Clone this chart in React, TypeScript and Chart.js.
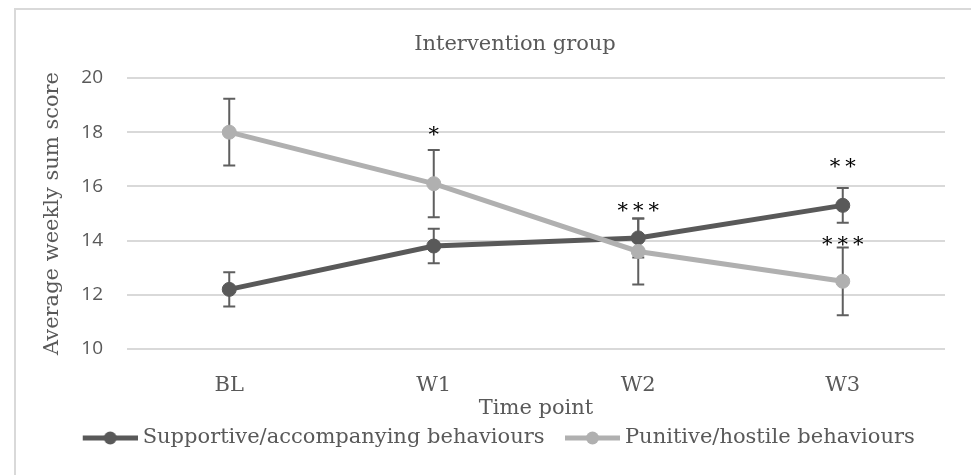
import React, { useEffect, useRef } from 'react';
import { Chart, registerables } from 'chart.js';

Chart.register(...registerables);

// ---- data ----
const categories = ['BL', 'W1', 'W2', 'W3'];
const seriesNames = ['Supportive/accompanying behaviours', 'Punitive/hostile behaviours'];
const supportiveMeans = [12.2, 13.8, 14.1, 15.3];
const supportiveErrors = [0.63, 0.64, 0.72, 0.64];
const punitiveMeans = [18.0, 16.1, 13.6, 12.5];
const punitiveErrors = [1.23, 1.24, 1.22, 1.25];
// significance annotations and the value level they sit at
const supportiveStars = ['', '', '***', '**'];
const supportiveStarLevels = [null, null, 15.26, 16.89];
const punitiveStars = ['', '*', '', '***'];
const punitiveStarLevels = [null, 18.07, null, 14.04];
const yTicks = { min: 10, max: 20, step: 2 };

const SERIF = "'DejaVu Serif', serif";
const SANS = "'Open Sans', sans-serif";
const TEXT = '#595959';
const DARK = '#595959';
const LIGHT = '#b0b0b0';

function makeLegendSymbol(color: string): HTMLCanvasElement {
  const c = document.createElement('canvas');
  c.width = 71;
  c.height = 16;
  const g = c.getContext('2d')!;
  g.strokeStyle = color;
  g.lineWidth = 5;
  g.beginPath();
  g.moveTo(16, 8);
  g.lineTo(71, 8);
  g.stroke();
  g.fillStyle = color;
  g.beginPath();
  g.arc(43.5, 8, 6.5, 0, Math.PI * 2);
  g.fill();
  return c;
}

const errorBarPlugin = {
  id: 'errorBars',
  beforeDatasetsDraw(chart: any) {
    const { ctx } = chart;
    const yScale = chart.scales.y;
    ctx.save();
    ctx.strokeStyle = '#5f5f5f';
    ctx.lineWidth = 2;
    chart.data.datasets.forEach((ds: any, di: number) => {
      const meta = chart.getDatasetMeta(di);
      meta.data.forEach((pt: any, i: number) => {
        const v = ds.data[i];
        const e = ds.errors[i];
        const x = pt.x;
        const yt = yScale.getPixelForValue(v + e);
        const yb = yScale.getPixelForValue(v - e);
        ctx.beginPath();
        ctx.moveTo(x, yt);
        ctx.lineTo(x, yb);
        ctx.moveTo(x - 6, yt);
        ctx.lineTo(x + 6, yt);
        ctx.moveTo(x - 6, yb);
        ctx.lineTo(x + 6, yb);
        ctx.stroke();
      });
    });
    ctx.restore();
  },
};

const starPlugin = {
  id: 'stars',
  afterDatasetsDraw(chart: any) {
    const { ctx } = chart;
    const yScale = chart.scales.y;
    ctx.save();
    ctx.font = `21px ${SERIF}`;
    ctx.fillStyle = '#000000';
    ctx.textAlign = 'center';
    ctx.textBaseline = 'alphabetic';
    chart.data.datasets.forEach((ds: any, di: number) => {
      const meta = chart.getDatasetMeta(di);
      meta.data.forEach((pt: any, i: number) => {
        const s: string = ds.stars[i];
        const lvl = ds.starLevels[i];
        if (!s || lvl == null) return;
        const y = yScale.getPixelForValue(lvl) + 11;
        const n = s.length;
        for (let k = 0; k < n; k++) {
          ctx.fillText(s[k], pt.x + (k - (n - 1) / 2) * 15.5, y);
        }
      });
    });
    ctx.restore();
  },
};

const legendShiftPlugin = {
  id: 'legendShift',
  afterLayout(chart: any) {
    if (chart.legend) chart.legend.left -= 43;
  },
};

export default function App() {
  const ref = useRef<HTMLCanvasElement | null>(null);

  useEffect(() => {
    if (!ref.current) return;
    const symbols = [makeLegendSymbol(DARK), makeLegendSymbol(LIGHT)];
    const chart = new Chart(ref.current, {
      type: 'line',
      data: {
        labels: categories,
        datasets: [
          {
            label: seriesNames[0],
            data: supportiveMeans,
            errors: supportiveErrors,
            stars: supportiveStars,
            starLevels: supportiveStarLevels,
            borderColor: DARK,
            backgroundColor: DARK,
            borderWidth: 5,
            pointRadius: 7,
            pointBackgroundColor: DARK,
            pointBorderColor: DARK,
            pointBorderWidth: 1,
            tension: 0,
            order: 2,
          } as any,
          {
            label: seriesNames[1],
            data: punitiveMeans,
            errors: punitiveErrors,
            stars: punitiveStars,
            starLevels: punitiveStarLevels,
            borderColor: LIGHT,
            backgroundColor: LIGHT,
            borderWidth: 5,
            pointRadius: 7,
            pointBackgroundColor: LIGHT,
            pointBorderColor: LIGHT,
            pointBorderWidth: 1,
            tension: 0,
            order: 1,
          } as any,
        ],
      },
      options: {
        animation: false,
        responsive: false,
        maintainAspectRatio: false,
        layout: { padding: { top: 0, left: 0, right: 0, bottom: 16.5 } },
        plugins: {
          title: {
            display: true,
            text: 'Intervention group',
            color: TEXT,
            font: { family: SERIF, size: 21, weight: 'normal', lineHeight: 1.2 },
            padding: { top: 22.4, bottom: 20.4 },
          },
          legend: {
            position: 'bottom',
            labels: {
              usePointStyle: true,
              pointStyleWidth: 60,
              padding: 10,
              color: TEXT,
              font: { family: SERIF, size: 21, lineHeight: 1.2 },
              generateLabels: () =>
                seriesNames.map((name, i) => ({
                  text: name,
                  fillStyle: i === 0 ? DARK : LIGHT,
                  strokeStyle: i === 0 ? DARK : LIGHT,
                  lineWidth: 0,
                  pointStyle: symbols[i],
                  fontColor: TEXT,
                  hidden: false,
                  datasetIndex: i,
                })),
            },
          },
          tooltip: { enabled: false },
        },
        scales: {
          x: {
            type: 'category',
            offset: true,
            grid: { display: false, drawTicks: false },
            border: { display: false },
            ticks: { color: TEXT, font: { family: SERIF, size: 21, lineHeight: 1.2 }, padding: 24.4 },
            title: {
              display: true,
              text: 'Time point',
              color: TEXT,
              font: { family: SERIF, size: 21, lineHeight: 1.2 },
              padding: { top: 0, bottom: -4.1 },
            },
            afterFit: (s: any) => {
              s.height = 68.5;
            },
          },
          y: {
            type: 'linear',
            min: yTicks.min,
            max: yTicks.max,
            ticks: { stepSize: yTicks.step, color: TEXT, font: { family: SANS, size: 19 }, padding: 24 },
            grid: { color: '#d9d9d9', lineWidth: 2, drawTicks: false },
            border: { display: false },
            title: {
              display: true,
              text: 'Average weekly sum score',
              color: TEXT,
              font: { family: SERIF, size: 21, lineHeight: 1.2 },
              padding: { top: 24.4, bottom: 0 },
            },
            afterFit: (s: any) => {
              s.width = 111;
            },
          },
          y2: {
            type: 'linear',
            position: 'right',
            display: true,
            grid: { display: false, drawTicks: false },
            ticks: { display: false },
            border: { display: false },
            afterFit: (s: any) => {
              s.width = 69;
            },
          },
        },
      } as any,
      plugins: [errorBarPlugin, starPlugin, legendShiftPlugin],
    });
    return () => chart.destroy();
  }, []);

  return (
    <div
      style={{
        position: 'fixed',
        left: 0,
        top: 0,
        width: 971,
        height: 475,
        overflow: 'hidden',
        background: '#ffffff',
      }}
    >
      <div
        style={{
          position: 'absolute',
          left: 14,
          top: 8,
          width: 1100,
          height: 600,
          borderLeft: '2px solid #d9d9d9',
          borderTop: '2px solid #d9d9d9',
          boxSizing: 'border-box',
        }}
      >
        <canvas ref={ref} width={998} height={465} style={{ display: 'block', width: 998, height: 465 }} />
      </div>
    </div>
  );
}
